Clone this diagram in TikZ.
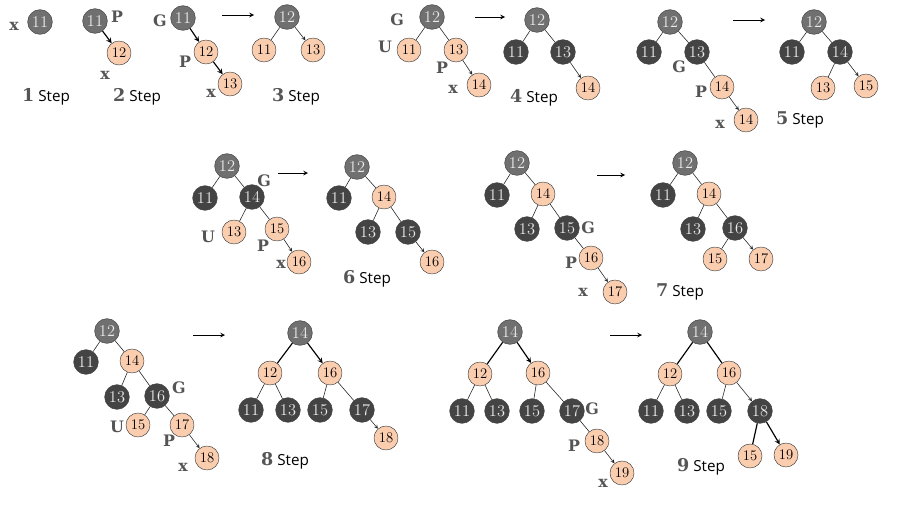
\documentclass[tikz,border=0pt]{standalone}
\usepackage{fontspec}
\setsansfont{Open Sans}
\newfontfamily\slabfont{DejaVu Serif}
\usetikzlibrary{arrows}
\definecolor{peach}{RGB}{251,205,175}
\definecolor{rootgray}{RGB}{112,112,112}
\definecolor{darknode}{RGB}{68,68,68}
\definecolor{tagtext}{RGB}{85,85,85}
\tikzstyle{rnode} = [circle, draw=black!75, fill=peach, minimum size=0.72cm,
	inner sep=0pt, font=\fontsize{12.5}{12}\selectfont]
\tikzstyle{bnode} = [circle, draw=black!75, fill=darknode, text=white!92!black,
	minimum size=0.74cm, inner sep=0pt, font=\fontsize{14}{14}\selectfont]
\tikzstyle{gnode} = [bnode, fill=rootgray]
\tikzstyle{link} = [->, >=stealth, black!85, line width=0.5pt]
\tikzstyle{boldlink} = [->, >=stealth, line width=1pt]
\tikzstyle{goarrow} = [->, >=stealth, thick]
\tikzstyle{tag} = [font=\slabfont\bfseries\fontsize{13.5}{13.5}\selectfont, text=tagtext]
\tikzstyle{steplabel} = [font=\sffamily\fontsize{13}{13}\selectfont]
\newcommand{\steptext}[1]{\textcolor{tagtext}{\slabfont\bfseries\fontsize{15}{15}\selectfont #1}~Step}

\begin{document}
\begin{tikzpicture}[x=0.03cm, y=-0.03cm]
	% set up canvas
	\useasboundingbox (0,0) rectangle (904,505);

	% step 1
	\node (t1-x) [tag] at (14,26) {x};
	\node (t1-11) [gnode] at (40,22) {11};
	\node (t1-lab) [steplabel] at (46,97) {\steptext{1}};

	% step 2
	\node (t2-11) [gnode] at (95,21) {11};
	\node (t2-P) [tag] at (117,17) {P};
	\node (t2-12) [rnode] at (119,53) {12};
	\node (t2-x) [tag] at (105,75) {x};
	\draw[boldlink] (t2-11) -- (t2-12);
	\node (t2-lab) [steplabel] at (137,97) {\steptext{2}};

	% step 3
	\node (t3a-G) [tag] at (160,21) {G};
	\node (t3a-11) [gnode] at (183,18) {11};
	\node (t3a-12) [rnode] at (206,52) {12};
	\node (t3a-P) [tag] at (185,62) {P};
	\node (t3a-13) [rnode] at (230,84) {13};
	\node (t3a-x) [tag] at (211,93) {x};
	\draw[boldlink] (t3a-11) -- (t3a-12);
	\draw[boldlink] (t3a-12) -- (t3a-13);
	\coordinate (go3s) at (222,15);
	\coordinate (go3e) at (254,15);
	\draw[goarrow] (go3s) -- (go3e);
	\node (t3b-12) [gnode] at (287,17) {12};
	\node (t3b-11) [rnode] at (264,50) {11};
	\node (t3b-13) [rnode] at (313,50) {13};
	\draw[link] (t3b-12) -- (t3b-11) (t3b-12) -- (t3b-13);
	\node (t3-lab) [steplabel] at (296,97) {\steptext{3}};

	% step 4
	\node (t4a-G) [tag] at (397,20) {G};
	\node (t4a-12) [gnode] at (432,17) {12};
	\node (t4a-U) [tag] at (385,47) {U};
	\node (t4a-11) [rnode] at (409,50) {11};
	\node (t4a-13) [rnode] at (456,50) {13};
	\node (t4a-P) [tag] at (442,68) {P};
	\node (t4a-14) [rnode] at (479,85) {14};
	\node (t4a-x) [tag] at (453,89) {x};
	\draw[link] (t4a-12) -- (t4a-11) (t4a-12) -- (t4a-13) (t4a-13) -- (t4a-14);
	\coordinate (go4s) at (475,17);
	\coordinate (go4e) at (505,17);
	\draw[goarrow] (go4s) -- (go4e);
	\node (t4b-12) [gnode] at (537,20) {12};
	\node (t4b-11) [bnode] at (516,52) {11};
	\node (t4b-13) [bnode] at (563,52) {13};
	\node (t4b-14) [rnode] at (588,88) {14};
	\draw[link] (t4b-12) -- (t4b-11) (t4b-12) -- (t4b-13) (t4b-13) -- (t4b-14);
	\node (t4-lab) [steplabel] at (534,98) {\steptext{4}};

	% step 5
	\node (t5a-12) [gnode] at (670,22) {12};
	\node (t5a-11) [bnode] at (649,52) {11};
	\node (t5a-13) [bnode] at (697,52) {13};
	\node (t5a-G) [tag] at (679,67) {G};
	\node (t5a-14) [rnode] at (722,87) {14};
	\node (t5a-P) [tag] at (701,92) {P};
	\node (t5a-14x) [rnode] at (746,120) {14};
	\node (t5a-x) [tag] at (720,124) {x};
	\draw[link] (t5a-12) -- (t5a-11) (t5a-12) -- (t5a-13) (t5a-13) -- (t5a-14) (t5a-14) -- (t5a-14x);
	\coordinate (go5s) at (733,20);
	\coordinate (go5e) at (765,20);
	\draw[goarrow] (go5s) -- (go5e);
	\node (t5b-12) [gnode] at (814,22) {12};
	\node (t5b-11) [bnode] at (792,52) {11};
	\node (t5b-14) [bnode] at (840,52) {14};
	\node (t5b-13) [rnode] at (823,88) {13};
	\node (t5b-15) [rnode] at (866,86) {15};
	\draw[link] (t5b-12) -- (t5b-11) (t5b-12) -- (t5b-14) (t5b-14) -- (t5b-13) (t5b-14) -- (t5b-15);
	\node (t5-lab) [steplabel] at (800,120) {\steptext{5}};

	% step 6
	\node (t6a-12) [gnode] at (227,166) {12};
	\node (t6a-11) [bnode] at (205,198) {11};
	\node (t6a-14) [bnode] at (252,197) {14};
	\node (t6a-G) [tag] at (264,181) {G};
	\node (t6a-13) [rnode] at (234,232) {13};
	\node (t6a-U) [tag] at (208,237) {U};
	\node (t6a-15) [rnode] at (277,229) {15};
	\node (t6a-P) [tag] at (263,246) {P};
	\node (t6a-16) [rnode] at (299,262) {16};
	\node (t6a-x) [tag] at (281,264) {x};
	\draw[link] (t6a-12) -- (t6a-11) (t6a-12) -- (t6a-14) (t6a-14) -- (t6a-13) (t6a-14) -- (t6a-15) (t6a-15) -- (t6a-16);
	\coordinate (go6s) at (278,173);
	\coordinate (go6e) at (308,173);
	\draw[goarrow] (go6s) -- (go6e);
	\node (t6b-12) [gnode] at (357,167) {12};
	\node (t6b-11) [bnode] at (339,198) {11};
	\node (t6b-14) [rnode] at (384,197) {14};
	\node (t6b-13) [bnode] at (368,232) {13};
	\node (t6b-15) [bnode] at (408,232) {15};
	\node (t6b-16) [rnode] at (432,262) {16};
	\draw[link] (t6b-12) -- (t6b-11) (t6b-12) -- (t6b-14) (t6b-14) -- (t6b-13) (t6b-14) -- (t6b-15) (t6b-15) -- (t6b-16);
	\node (t6-lab) [steplabel] at (367,279) {\steptext{6}};

	% step 7
	\node (t7a-12) [gnode] at (517,163) {12};
	\node (t7a-11) [bnode] at (497,195) {11};
	\node (t7a-14) [rnode] at (543,194) {14};
	\node (t7a-13) [bnode] at (527,229) {13};
	\node (t7a-15) [bnode] at (567,228) {15};
	\node (t7a-G) [tag] at (588,228) {G};
	\node (t7a-16) [rnode] at (591,258) {16};
	\node (t7a-P) [tag] at (571,263) {P};
	\node (t7a-17) [rnode] at (615,292) {17};
	\node (t7a-x) [tag] at (583,292) {x};
	\draw[link] (t7a-12) -- (t7a-11) (t7a-12) -- (t7a-14) (t7a-14) -- (t7a-13) (t7a-14) -- (t7a-15) (t7a-15) -- (t7a-16) (t7a-16) -- (t7a-17);
	\coordinate (go7s) at (597,175);
	\coordinate (go7e) at (625,175);
	\draw[goarrow] (go7s) -- (go7e);
	\node (t7b-12) [gnode] at (685,163) {12};
	\node (t7b-11) [bnode] at (663,195) {11};
	\node (t7b-14) [rnode] at (709,194) {14};
	\node (t7b-13) [bnode] at (693,229) {13};
	\node (t7b-16) [bnode] at (735,228) {16};
	\node (t7b-15) [rnode] at (715,259) {15};
	\node (t7b-17) [rnode] at (761,259) {17};
	\draw[link] (t7b-12) -- (t7b-11) (t7b-12) -- (t7b-14) (t7b-14) -- (t7b-13) (t7b-14) -- (t7b-16) (t7b-16) -- (t7b-15) (t7b-16) -- (t7b-17);
	\node (t7-lab) [steplabel] at (680,292) {\steptext{7}};

	% step 8
	\node (t8a-12) [gnode] at (107,331) {12};
	\node (t8a-11) [bnode] at (86,362) {11};
	\node (t8a-14) [rnode] at (132,361) {14};
	\node (t8a-13) [bnode] at (117,397) {13};
	\node (t8a-16) [bnode] at (157,396) {16};
	\node (t8a-G) [tag] at (179,388) {G};
	\node (t8a-15) [rnode] at (138,425) {15};
	\node (t8a-U) [tag] at (117,427) {U};
	\node (t8a-17) [rnode] at (182,425) {17};
	\node (t8a-P) [tag] at (169,441) {P};
	\node (t8a-18) [rnode] at (207,458) {18};
	\node (t8a-x) [tag] at (183,467) {x};
	\draw[link] (t8a-12) -- (t8a-11) (t8a-12) -- (t8a-14) (t8a-14) -- (t8a-13) (t8a-14) -- (t8a-16) (t8a-16) -- (t8a-15) (t8a-16) -- (t8a-17) (t8a-17) -- (t8a-18);
	\coordinate (go8s) at (193,335);
	\coordinate (go8e) at (225,335);
	\draw[goarrow] (go8s) -- (go8e);
	\node (t8b-14) [gnode] at (300,333) {14};
	\node (t8b-12) [rnode] at (270,373) {12};
	\node (t8b-16) [rnode] at (330,373) {16};
	\node (t8b-11) [bnode] at (251,410) {11};
	\node (t8b-13) [bnode] at (288,410) {13};
	\node (t8b-15) [bnode] at (320,410) {15};
	\node (t8b-17) [bnode] at (362,410) {17};
	\node (t8b-18) [rnode] at (386,438) {18};
	\draw[boldlink] (t8b-14) -- (t8b-12) (t8b-14) -- (t8b-16);
	\draw[link] (t8b-12) -- (t8b-11) (t8b-12) -- (t8b-13) (t8b-16) -- (t8b-15) (t8b-16) -- (t8b-17) (t8b-17) -- (t8b-18);
	\node (t8-lab) [steplabel] at (285,461) {\steptext{8}};

	% step 9
	\node (t9a-14) [gnode] at (510,332) {14};
	\node (t9a-12) [rnode] at (480,374) {12};
	\node (t9a-16) [rnode] at (538,373) {16};
	\node (t9a-11) [bnode] at (462,411) {11};
	\node (t9a-13) [bnode] at (497,411) {13};
	\node (t9a-15) [bnode] at (532,411) {15};
	\node (t9a-17) [bnode] at (572,411) {17};
	\node (t9a-G) [tag] at (592,409) {G};
	\node (t9a-18) [rnode] at (597,441) {18};
	\node (t9a-P) [tag] at (574,446) {P};
	\node (t9a-19) [rnode] at (622,473) {19};
	\node (t9a-x) [tag] at (603,483) {x};
	\draw[boldlink] (t9a-14) -- (t9a-12) (t9a-14) -- (t9a-16);
	\draw[link] (t9a-12) -- (t9a-11) (t9a-12) -- (t9a-13) (t9a-16) -- (t9a-15) (t9a-16) -- (t9a-17) (t9a-17) -- (t9a-18) (t9a-18) -- (t9a-19);
	\coordinate (go9s) at (610,335);
	\coordinate (go9e) at (642,335);
	\draw[goarrow] (go9s) -- (go9e);
	\node (t9b-14) [gnode] at (700,332) {14};
	\node (t9b-12) [rnode] at (670,374) {12};
	\node (t9b-16) [rnode] at (729,373) {16};
	\node (t9b-11) [bnode] at (651,411) {11};
	\node (t9b-13) [bnode] at (687,411) {13};
	\node (t9b-15) [bnode] at (719,411) {15};
	\node (t9b-18) [bnode] at (760,411) {18};
	\node (t9b-15x) [rnode] at (750,456) {15};
	\node (t9b-19) [rnode] at (786,455) {19};
	\draw[boldlink] (t9b-14) -- (t9b-12) (t9b-14) -- (t9b-16) (t9b-18) -- (t9b-15x) (t9b-18) -- (t9b-19);
	\draw[link] (t9b-12) -- (t9b-11) (t9b-12) -- (t9b-13) (t9b-16) -- (t9b-15) (t9b-16) -- (t9b-18);
	\node (t9-lab) [steplabel] at (701,467) {\steptext{9}};

\end{tikzpicture}
\end{document}
